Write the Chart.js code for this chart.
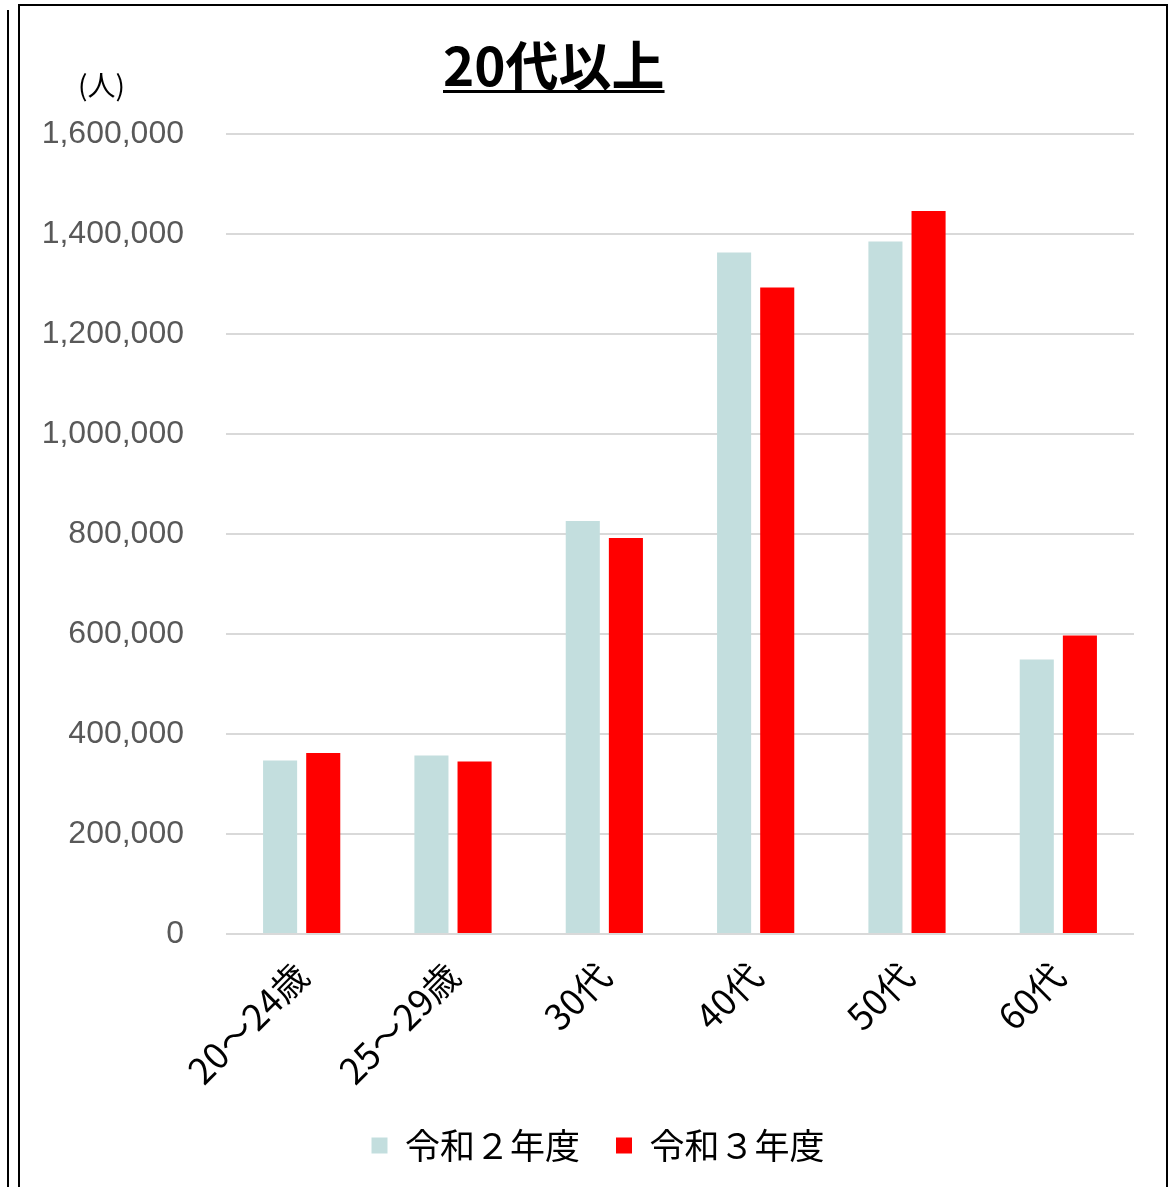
<!DOCTYPE html>
<html>
<head>
<meta charset="utf-8">
<script src="https://cdn.jsdelivr.net/npm/chart.js@4"></script>
<style>
  body { margin: 0; background: #fff; }
  #wrap { position: relative; width: 1175px; height: 1187px; overflow: hidden; }
  #prev { position: absolute; left: 7px; top: 10px; width: 2px; height: 1200px; background: #000; }
  #frame { position: absolute; left: 18px; top: 4px; width: 1146px; height: 1200px; border: 2px solid #000; border-bottom: none; }
  #title { position: absolute; left: 443px; top: 28px; font: bold 53px "Noto Sans CJK JP"; color: #000;
           text-decoration: underline; text-decoration-thickness: 3px; text-underline-offset: 4px; line-height: 70px; }
  #unit { position: absolute; left: 78px; top: 64px; font: 28px "Noto Sans CJK JP"; color: #000; line-height: 40px; }
  canvas { position: absolute; left: 0; top: 0; }
</style>
</head>
<body>
<div id="wrap">
  <div id="prev"></div>
  <div id="frame"></div>
  <canvas id="myChart" width="1175" height="1187"></canvas>
  <div id="title">20代以上</div>
  <div id="unit">(人)</div>
</div>
<script>
// categories and series
const labels = ["20～24歳", "25～29歳", "30代", "40代", "50代", "60代"];
const seriesNames = ["令和２年度", "令和３年度"];
const r2Values = [347000, 357000, 826000, 1363000, 1385000, 549000];
const r3Values = [362000, 345000, 792000, 1293000, 1446000, 597000];
const yTicks = [0, 200000, 400000, 600000, 800000, 1000000, 1200000, 1400000, 1600000];

// nudge the legend to the right, it is not centred on the canvas in the original
const legendShift = {
  id: "legendShift",
  afterLayout(chart) {
    if (chart.legend) {
      chart.legend.left += 31;
      chart.legend.right += 31;
    }
  },
};

const ctx = document.getElementById("myChart").getContext("2d");
const myChart = new Chart(ctx, {
  type: "bar",
  data: {
    labels: labels,
    datasets: [
      {
        label: seriesNames[0],
        data: r2Values,
        backgroundColor: "#C3DEDE",
        categoryPercentage: 0.57,
        barPercentage: 0.79,
      },
      {
        label: seriesNames[1],
        data: r3Values,
        backgroundColor: "#FF0000",
        categoryPercentage: 0.57,
        barPercentage: 0.79,
      },
    ],
  },
  plugins: [legendShift],
  options: {
    responsive: false,
    animation: false,
    layout: { padding: { left: 0, right: 41, top: 134, bottom: 14 } },
    plugins: {
      title: { display: false },
      tooltip: { enabled: false },
      legend: {
        position: "bottom",
        labels: {
          boxWidth: 16,
          boxHeight: 16,
          padding: 36,
          color: "#000",
          font: { family: "Noto Sans CJK JP", size: 35 },
        },
      },
    },
    scales: {
      x: {
        grid: { display: false },
        border: { display: false },
        ticks: {
          color: "#000",
          minRotation: 45,
          maxRotation: 45,
          padding: 12,
          font: { family: "Noto Sans CJK JP", size: 36 },
        },
        afterFit: (scale) => {
          scale.height = 158;
        },
      },
      y: {
        min: 0,
        max: 1600000,
        afterBuildTicks: (scale) => {
          scale.ticks = yTicks.map((v) => ({ value: v }));
        },
        grid: { color: "#D9D9D9", lineWidth: 2, drawTicks: false },
        border: { display: false },
        ticks: {
          color: "#595959",
          padding: 42,
          font: { family: "Liberation Sans", size: 32 },
          callback: (v) => v.toLocaleString("en-US"),
        },
        afterFit: (scale) => {
          scale.width = 226;
        },
      },
    },
  },
});
</script>
</body>
</html>
